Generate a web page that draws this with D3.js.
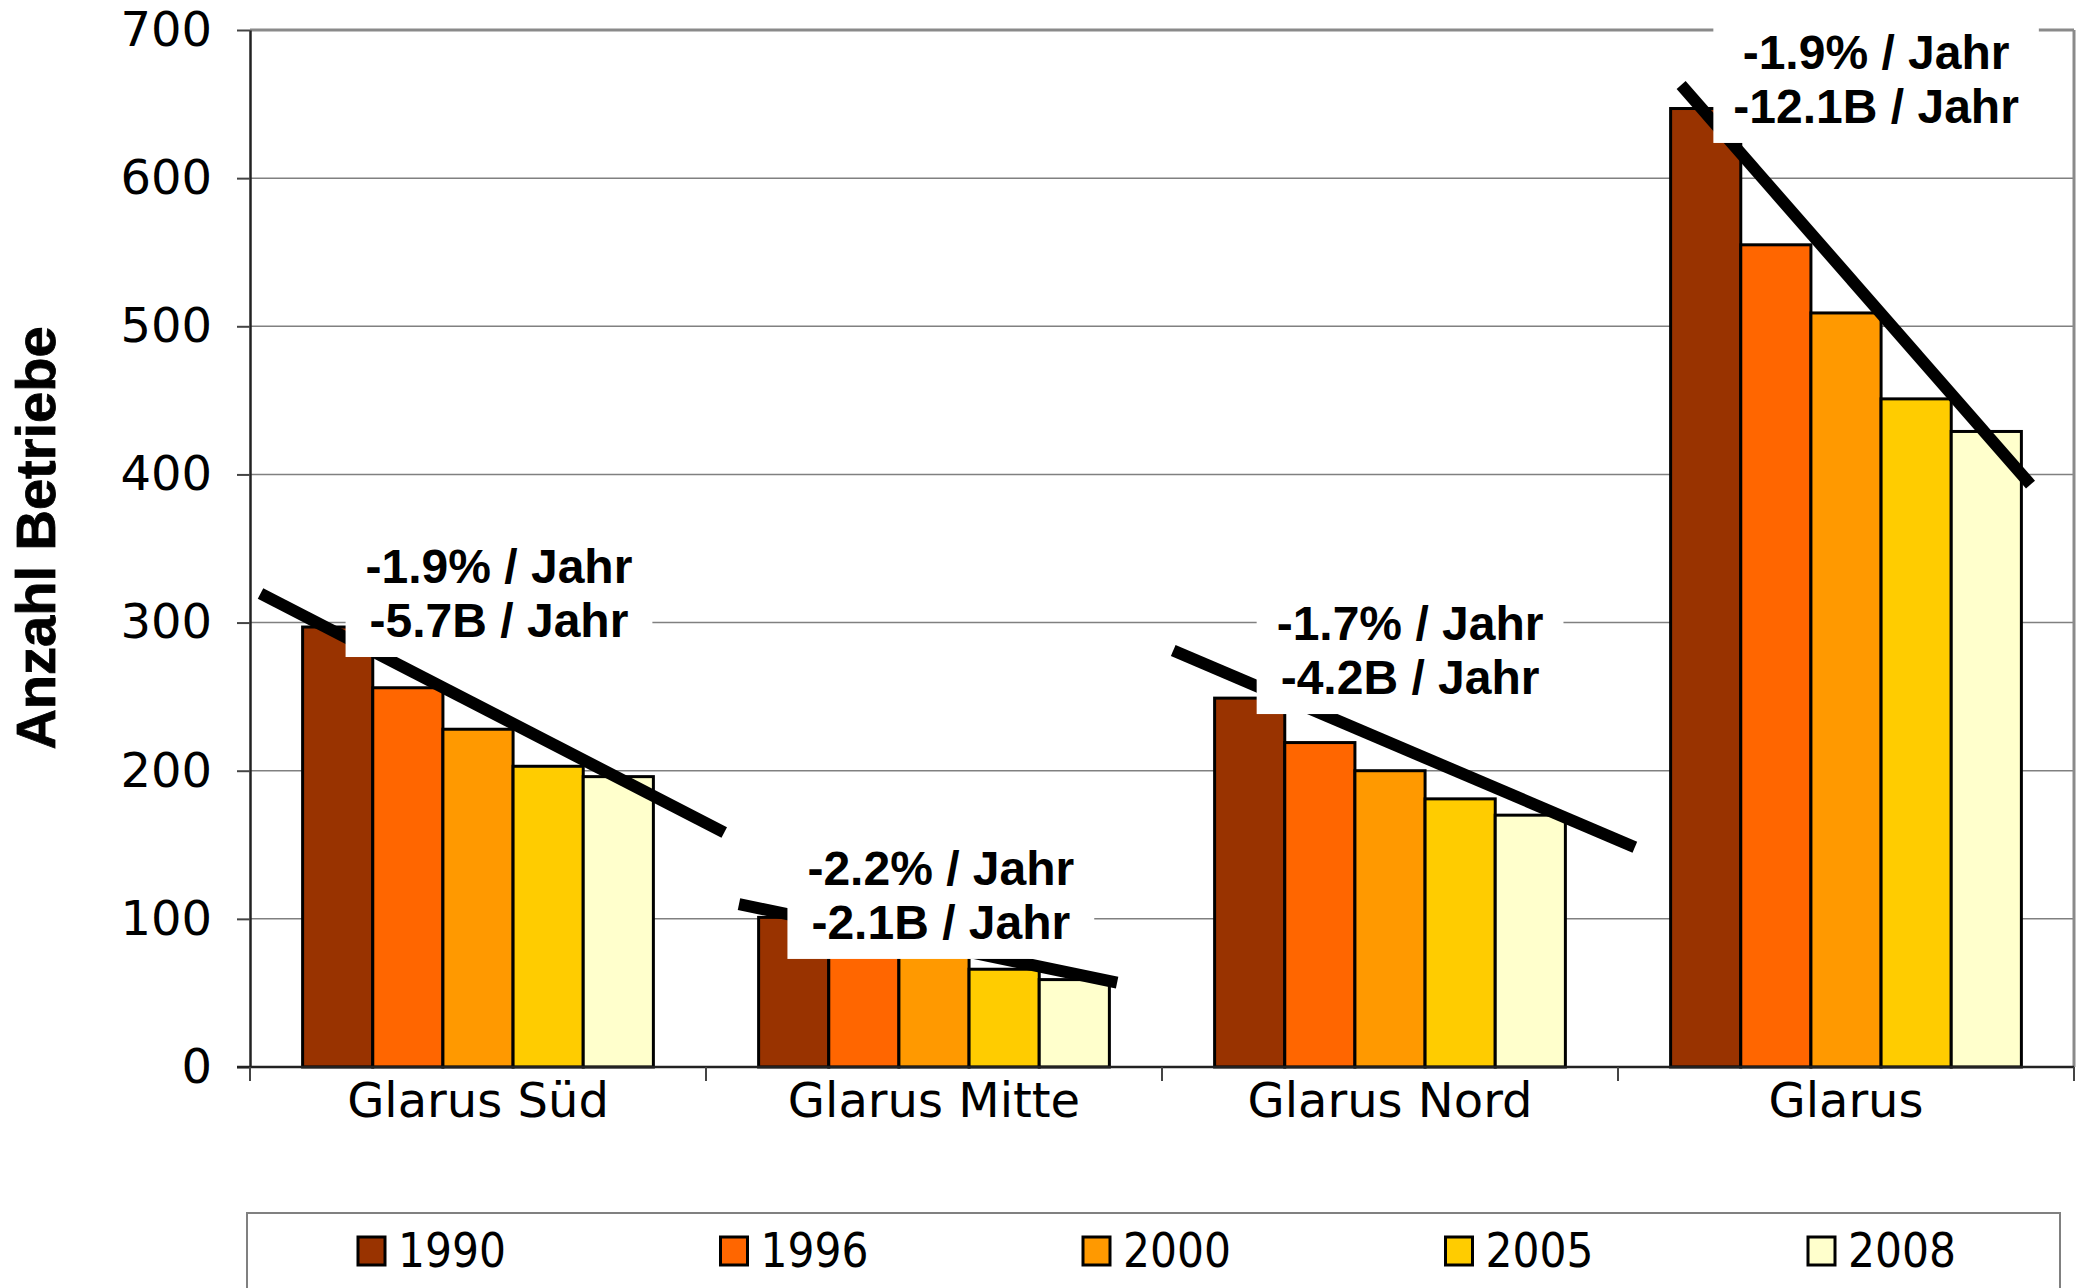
<!DOCTYPE html>
<html>
<head>
<meta charset="utf-8">
<script src="https://cdn.jsdelivr.net/npm/d3@7"></script>
<style>
  html, body { margin: 0; padding: 0; background: #fff; }
  svg { display: block; }
</style>
</head>
<body>
<svg id="chart" width="2082" height="1288"></svg>
<script>
// ---------- data ----------
const categories = ["Glarus Süd", "Glarus Mitte", "Glarus Nord", "Glarus"];
const years = ["1990", "1996", "2000", "2005", "2008"];
const v1990 = [297, 101, 249, 647];
const v1996 = [256, 82, 219, 555];
const v2000 = [228, 80, 200, 509];
const v2005 = [203, 66, 181, 451];
const v2008 = [196, 59, 170, 429];
const seriesColors = ["#993300", "#FF6600", "#FF9900", "#FFCC00", "#FFFFCC"];
const yTicks = [0, 100, 200, 300, 400, 500, 600, 700];
const yTitle = "Anzahl Betriebe";

// trend annotations (line end points in bar-index / value units)
const trendPct = ["-1.9% / Jahr", "-2.2% / Jahr", "-1.7% / Jahr", "-1.9% / Jahr"];
const trendAbs = ["-5.7B / Jahr", "-2.1B / Jahr", "-4.2B / Jahr", "-12.1B / Jahr"];
const trendStartIdx = [-1.10, -0.78, -1.09, -0.35];
const trendStartVal = [319.6, 109.9, 281.1, 662.9];
const trendEndIdx = [5.51, 4.61, 5.49, 4.63];
const trendEndVal = [158.3, 57.0, 148.4, 393.1];
const labelVal = [326.7, 122.9, 288.2, 673.7];
const labelShift = [0.046, 0.015, 0.044, 0.066];

const seriesValues = [v1990, v1996, v2000, v2005, v2008];

// ---------- layout ----------
const svg = d3.select("#chart");
const plot = { left: 250, right: 2074, top: 30, bottom: 1067 };

const x0 = d3.scaleBand().domain(categories).range([plot.left, plot.right]).paddingInner(0).paddingOuter(0);
const x1 = d3.scaleBand().domain(years).range([0, x0.bandwidth()]).paddingInner(0).paddingOuter(0.75);
const y = d3.scaleLinear().domain([0, 700]).range([plot.bottom, plot.top]);
// continuous bar index -> x position within a band
const idx = d3.scaleLinear().domain([0, 1]).range([x1(years[0]) + x1.bandwidth() / 2, x1(years[1]) + x1.bandwidth() / 2]);

const FONT_AXIS = "'DejaVu Sans', Verdana, sans-serif";
const FONT_BOLD = "'Liberation Sans', Arial, sans-serif";

// gridlines
svg.append("g").selectAll("line").data(yTicks.filter(t => t > 0 && t < 700)).join("line")
  .attr("x1", plot.left).attr("x2", plot.right)
  .attr("y1", d => y(d)).attr("y2", d => y(d))
  .attr("stroke", "#808080").attr("stroke-width", 1.5);

// plot border top & right
svg.append("line").attr("x1", plot.left).attr("x2", plot.right).attr("y1", y(700)).attr("y2", y(700))
  .attr("stroke", "#8a8a8a").attr("stroke-width", 3);
svg.append("line").attr("x1", plot.right).attr("x2", plot.right).attr("y1", y(700)).attr("y2", plot.bottom)
  .attr("stroke", "#8a8a8a").attr("stroke-width", 3);

// bars
const groups = svg.append("g").selectAll("g").data(categories).join("g")
  .attr("transform", d => `translate(${x0(d)},0)`);
groups.selectAll("rect").data((c, ci) => years.map((yr, si) => ({ yr, si, v: seriesValues[si][ci] }))).join("rect")
  .attr("x", d => x1(d.yr))
  .attr("width", x1.bandwidth())
  .attr("y", d => y(d.v))
  .attr("height", d => y(0) - y(d.v))
  .attr("fill", d => seriesColors[d.si])
  .attr("stroke", "#000").attr("stroke-width", 3);

// axes
const yAxis = svg.append("g").attr("transform", `translate(${plot.left},0)`)
  .call(d3.axisLeft(y).tickValues(yTicks).tickSize(13).tickPadding(25).tickSizeOuter(0));
yAxis.select(".domain").attr("stroke", "#222").attr("stroke-width", 2.5);
yAxis.selectAll(".tick line").attr("stroke", "#444").attr("stroke-width", 2);
yAxis.selectAll(".tick text").attr("font-family", FONT_AXIS).attr("font-size", 48).attr("fill", "#000");

const xAxisG = svg.append("g").attr("transform", `translate(0,${plot.bottom})`);
xAxisG.append("line").attr("x1", plot.left - 13).attr("x2", plot.right).attr("y1", 0).attr("y2", 0)
  .attr("stroke", "#222").attr("stroke-width", 2.5);
const boundaries = categories.map(c => x0(c)).concat([x0(categories[categories.length - 1]) + x0.bandwidth()]);
xAxisG.selectAll("line.tk").data(boundaries).join("line").attr("class", "tk")
  .attr("x1", d => d).attr("x2", d => d).attr("y1", 0).attr("y2", 14)
  .attr("stroke", "#444").attr("stroke-width", 2);
xAxisG.selectAll("text").data(categories).join("text")
  .attr("x", d => x0(d) + x0.bandwidth() / 2)
  .attr("y", 50)
  .attr("text-anchor", "middle")
  .attr("font-family", FONT_AXIS).attr("font-size", 48).attr("fill", "#000")
  .text(d => d);

// y title
svg.append("text")
  .attr("transform", `translate(55,538) rotate(-90)`)
  .attr("text-anchor", "middle")
  .attr("font-family", FONT_BOLD).attr("font-weight", "bold").attr("font-size", 56)
  .attr("stroke", "#000").attr("stroke-width", 0.8)
  .text(yTitle);

// trend lines
svg.append("g").selectAll("line").data(categories).join("line")
  .attr("x1", (c, i) => x0(c) + idx(trendStartIdx[i]))
  .attr("y1", (c, i) => y(trendStartVal[i]))
  .attr("x2", (c, i) => x0(c) + idx(trendEndIdx[i]))
  .attr("y2", (c, i) => y(trendEndVal[i]))
  .attr("stroke", "#000").attr("stroke-width", 12);

// trend labels with white boxes
categories.forEach((c, i) => {
  const g = svg.append("g");
  const cx = x0(c) + x0.bandwidth() * (0.5 + labelShift[i]);
  const b1 = y(labelVal[i]);
  const rect = g.append("rect").attr("fill", "#fff");
  const t = g.append("g");
  [trendPct[i], trendAbs[i]].forEach((s, k) => {
    t.append("text").attr("x", cx).attr("y", b1 + k * 54)
      .attr("text-anchor", "middle")
      .attr("font-family", FONT_BOLD).attr("font-weight", "bold").attr("font-size", 48)
      .attr("fill", "#000").text(s);
  });
  const bb = t.node().getBBox();
  rect.attr("x", bb.x - 20).attr("y", bb.y - 8).attr("width", bb.width + 40).attr("height", bb.height + 18);
});

// legend
const legend = svg.append("g");
legend.append("rect").attr("x", 247).attr("y", 1213).attr("width", 1813).attr("height", 120)
  .attr("fill", "#fff").attr("stroke", "#808080").attr("stroke-width", 2);
const lx = d3.scalePoint().domain(years).range([358, 1808]);
const items = legend.selectAll("g").data(years).join("g").attr("transform", d => `translate(${lx(d)},1237)`);
items.append("rect").attr("width", 27).attr("height", 28)
  .attr("fill", (d, i) => seriesColors[i]).attr("stroke", "#000").attr("stroke-width", 3);
items.append("text").attr("x", 40).attr("y", 30)
  .attr("font-family", FONT_AXIS).attr("font-size", 48)
  .attr("textLength", 108).attr("lengthAdjust", "spacingAndGlyphs")
  .text(d => d);
</script>
</body>
</html>
